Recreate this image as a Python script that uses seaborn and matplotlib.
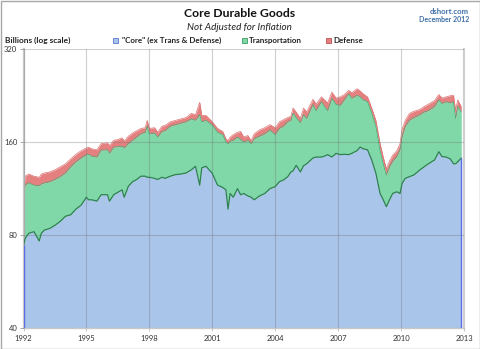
import numpy as np
import pandas as pd
import matplotlib
matplotlib.use("Agg")
import matplotlib.pyplot as plt
import seaborn as sns
from matplotlib.patches import Rectangle
from matplotlib.ticker import FixedLocator, NullLocator, FixedFormatter

# ---- data (billions of dollars) ----
dates = [1992.00, 1992.08, 1992.25, 1992.50, 1992.75, 1992.85, 1993.00, 1993.25, 1993.50, 1993.75,
         1994.00, 1994.25, 1994.50, 1994.75, 1995.00, 1995.10, 1995.25, 1995.50, 1995.70, 1996.00,
         1996.10, 1996.30, 1996.50, 1996.70, 1996.80, 1997.00, 1997.20, 1997.40, 1997.60, 1997.80,
         1997.90, 1998.00, 1998.25, 1998.40, 1998.60, 1998.75, 1999.00, 1999.25, 1999.50, 1999.75,
         2000.00, 2000.20, 2000.40, 2000.50, 2000.70, 2001.00, 2001.25, 2001.50, 2001.65, 2001.75,
         2001.85, 2002.00, 2002.20, 2002.35, 2002.50, 2002.70, 2002.85, 2003.00, 2003.25, 2003.50,
         2003.75, 2004.00, 2004.20, 2004.40, 2004.60, 2004.75, 2004.85, 2005.00, 2005.20, 2005.35,
         2005.50, 2005.80, 2005.95, 2006.20, 2006.35, 2006.50, 2006.70, 2006.90, 2007.10, 2007.30,
         2007.50, 2007.65, 2007.90, 2008.05, 2008.20, 2008.40, 2008.60, 2008.80, 2009.00, 2009.15,
         2009.30, 2009.45, 2009.60, 2009.80, 2009.95, 2010.05, 2010.20, 2010.40, 2010.60, 2010.90,
         2011.10, 2011.30, 2011.60, 2011.80, 2011.95, 2012.15, 2012.35, 2012.50, 2012.60, 2012.70,
         2012.87]
core = [74, 78, 81, 82, 76.5, 81, 83, 84, 86, 88.5,
        92, 93, 97, 100, 106, 104, 104, 103, 108, 108,
        103, 108, 110, 112, 106, 115, 119, 121, 124, 124,
        123, 123, 122, 121, 123, 122, 124, 125.5, 126, 127,
        130, 133.5, 116, 132, 133.5, 126.7, 116, 114, 112, 97,
        109, 106, 113, 108, 109, 107, 106, 104, 107, 109,
        113, 114.7, 119, 120.6, 123.6, 128, 129, 134.5, 128, 134,
        136, 142, 143, 143, 144, 145.6, 143, 147, 145.6, 146,
        145.6, 147, 150, 154, 152, 151, 140, 126.7, 109, 104,
        98.8, 104, 109, 110.4, 109, 117.5, 122, 123.6, 125, 130,
        133, 136, 140, 148.8, 143.5, 143, 141, 136, 136, 138,
        142]
transport = [32, 38, 37, 34, 39, 36, 35, 35, 35, 35.1,
             35, 40, 41, 42, 39.5, 42, 40, 40, 42.6, 43,
             44, 46, 44.5, 43, 47, 43, 43, 45, 46, 48,
             57, 47, 49, 45, 50, 52, 56, 56.5, 58, 59,
             60, 54.5, 80, 54, 54.5, 54.9, 56, 55, 48, 61,
             52, 56, 53, 55, 51, 55, 52, 60, 60, 61,
             62, 54.3, 58, 59.4, 62.4, 60, 69.5, 57.5, 56.5, 62,
             54.6, 69.5, 59, 73, 64.5, 56.4, 78.5, 65, 64.4, 73,
             83.4, 74.5, 76.5, 70, 67, 65, 58.5, 52.9, 41, 32,
             26.2, 29, 29.4, 33.1, 42, 48.5, 57.6, 64.4, 66.6, 66,
             67, 66, 68.5, 70.2, 69.5, 73, 73, 80, 54.6, 70.5,
             58]
defense = [6, 8, 8, 8, 7.5, 9, 9, 9, 9, 9.4,
           9, 8, 8, 8, 7.5, 8, 8, 8, 7.4, 8,
           9, 8, 8.5, 10, 8, 9, 9, 8, 7, 6,
           8, 7, 7, 6, 7, 7, 6, 6, 6, 6,
           8, 8, 19, 9, 7, 4.4, 5, 4, 4, 3.5,
           5, 7, 6, 10, 6, 6, 3.5, 6, 8, 8,
           7, 9, 9, 9, 6, 6, 7.5, 8, 6.1, 10,
           9.4, 8.5, 10, 8, 10.5, 12, 10.5, 10, 14, 9,
           6, 9.5, 11.5, 10, 10, 8, 7.5, 8.4, 8, 7,
           6, 6, 6.6, 6.5, 7, 10, 8.4, 10, 9.4, 8,
           8.5, 10, 9.5, 9, 9, 8, 12, 10.5, 12, 10.5,
           8]
year_ticks = [1992, 1995, 1998, 2001, 2004, 2007, 2010, 2013]
y_ticks = [40, 80, 160, 320]
legend_labels = ['"Core" (ex Trans & Defense)', 'Transportation', 'Defense']

BLUE = '#aac5ea'
GREEN = '#80d8a8'
RED = '#e58080'
LINE_GREEN = '#2f7f52'

sns.set_theme(style="white")
plt.rcParams['font.family'] = ['Lato', 'DejaVu Sans']

df = pd.DataFrame({'date': dates, 'core': core, 'transport': transport, 'defense': defense})
df['ct'] = df['core'] + df['transport']
df['total'] = df['ct'] + df['defense']

W, H = 480, 349
fig = plt.figure(figsize=(W / 100, H / 100), dpi=100)
fig.patch.set_facecolor('white')
x0, x1, yt, yb = 23.5, 464, 49, 328
ax = fig.add_axes([x0 / W, 1 - yb / H, (x1 - x0) / W, (yb - yt) / H])

ax.set_yscale('log', base=2)
ax.set_ylim(40, 320)
ax.set_xlim(1992, 2013)

ax.fill_between(df['date'], 40, df['core'], color=BLUE, lw=0, zorder=1)
ax.fill_between(df['date'], df['core'], df['ct'], color=GREEN, lw=0, zorder=1)
ax.fill_between(df['date'], df['ct'], df['total'], color=RED, lw=0, zorder=1)
sns.lineplot(data=df, x='date', y='total', color='#dc7272', lw=0.5, ax=ax, zorder=2)
sns.lineplot(data=df, x='date', y='ct', color='#4aa873', lw=0.5, ax=ax, zorder=2)
sns.lineplot(data=df, x='date', y='core', color=LINE_GREEN, lw=0.9, ax=ax, zorder=3)
ax.vlines([df['date'].iloc[0], df['date'].iloc[-1]], 40, [df['core'].iloc[0], df['core'].iloc[-1]],
          color='#5b6ee8', lw=1.0, zorder=3)

ax.set_xlabel('')
ax.set_ylabel('')
ax.yaxis.set_major_locator(FixedLocator(y_ticks))
ax.yaxis.set_major_formatter(FixedFormatter([str(v) for v in y_ticks]))
ax.yaxis.set_minor_locator(NullLocator())
ax.xaxis.set_major_locator(FixedLocator(year_ticks))
ax.xaxis.set_major_formatter(FixedFormatter([str(v) for v in year_ticks]))

ax.grid(True, color='#6f6f6f', alpha=0.33, lw=0.8, zorder=4)
ax.set_axisbelow(False)

ax.tick_params(axis='y', which='major', length=3, width=0.6, color='#9a9a9a',
               labelsize=5.5, labelcolor='#333333', pad=1.5, left=True)
ax.tick_params(axis='x', which='major', length=2, width=0.6, color='#bbbbbb',
               labelsize=5.5, labelcolor='#333333', pad=3, bottom=True)

ax.spines['top'].set_visible(False)
ax.spines['left'].set_color('#c8c8c8')
ax.spines['left'].set_linewidth(1.6)
ax.spines['bottom'].set_color('#c8c8c8')
ax.spines['bottom'].set_linewidth(1.0)
ax.spines['right'].set_color('#d0d0d0')
ax.spines['right'].set_linewidth(1.6)

def fx(px):
    return px / W

def fy(py):
    return 1 - py / H

fig.text(fx(240), fy(13.5), 'Core Durable Goods', ha='center', va='center',
         fontsize=8.8, fontweight='bold', color='#111111')
fig.text(fx(239), fy(27), 'Not Adjusted for Inflation', ha='center', va='center',
         fontsize=7.1, fontstyle='italic', color='#222222')
fig.text(fx(469), fy(11), 'dshort.com', ha='right', va='center',
         fontsize=5.6, fontweight='bold', color='#3f6fa6')
fig.text(fx(469), fy(20), 'December 2012', ha='right', va='center',
         fontsize=5.0, fontweight='bold', color='#3f6fa6')
fig.text(fx(5), fy(40.5), 'Billions (log scale)', ha='left', va='center',
         fontsize=6, fontweight='bold', color='#222222')

leg = [(113, 122, BLUE, '#5a78d0'), (242, 249, GREEN, '#3a9a60'), (326, 333, RED, '#c05050')]
for (sqx, tx, fc, ec), lab in zip(leg, legend_labels):
    fig.patches.append(Rectangle((fx(sqx), fy(43)), 5 / W, 5 / H, transform=fig.transFigure,
                                 facecolor=fc, edgecolor=ec, lw=0.6))
    fig.text(fx(tx), fy(40.5), lab, ha='left', va='center', fontsize=5.8,
             fontweight='bold', color='#222222')

fig.patches.append(Rectangle((0.5 / W, 0.5 / H), 1 - 1 / W, 1 - 1 / H, transform=fig.transFigure,
                             fill=False, edgecolor='#a8a8a8', lw=1.0))

fig.savefig('out.png', dpi=100, facecolor='white')
